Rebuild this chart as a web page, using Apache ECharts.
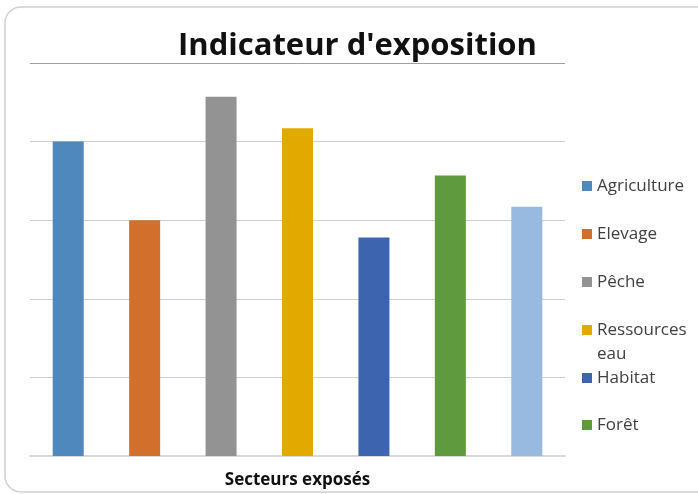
<!DOCTYPE html>
<html>
<head>
<meta charset="utf-8">
<script src="https://cdn.jsdelivr.net/npm/echarts@6/dist/echarts.min.js"></script>
<style>
  html, body { margin: 0; padding: 0; background: #fff; }
  #chart { width: 698px; height: 494px; }
</style>
</head>
<body>
<div id="chart"></div>
<script>
// secteurs et valeurs
const secteurs = ['Agriculture', 'Elevage', 'Pêche', 'Ressources eau', 'Habitat', 'Forêt', 'Autre']
const valeurs = [4.0, 3.0, 4.57, 4.17, 2.78, 3.57, 3.17]
const couleurs = ['#4F88BD', '#D26F2C', '#939393', '#E2AA00', '#3D64AE', '#5F9A3F', '#98B9E0']
// la légende d'origine est coupée : seules 6 entrées visibles
const legendeVisible = secteurs.slice(0, 6)
const legendeY = [186, 234, 282, 330, 378, 425]

const chart = echarts.init(document.getElementById('chart'))

const series = secteurs.map((nom, i) => ({
  name: nom,
  type: 'bar',
  stack: 'total',
  barWidth: 31,
  itemStyle: { color: couleurs[i] },
  data: secteurs.map((_, j) => (j === i ? valeurs[i] : null))
}))

// une légende par entrée pour caler les lignes comme sur l'original
const legends = legendeVisible.map((nom, i) => ({
  data: [nom],
  left: 582,
  top: legendeY[i] - 10,
  padding: 0,
  itemWidth: 10,
  itemHeight: 10,
  icon: 'rect',
  formatter: n => (n === 'Ressources eau' ? 'Ressources' : n),
  textStyle: { fontFamily: 'Open Sans', fontSize: 17, color: '#404040', lineHeight: 20 }
}))

chart.setOption({
  backgroundColor: '#fff',
  animation: false,
  textStyle: { fontFamily: 'Open Sans' },
  title: {
    text: "Indicateur d'exposition",
    left: 173,
    top: 26,
    textStyle: { fontFamily: 'Open Sans', fontSize: 31, fontWeight: 'bold', color: '#111' }
  },
  legend: legends,
  grid: { left: 30, right: 133, top: 63, bottom: 37 },
  xAxis: {
    type: 'category',
    data: secteurs,
    name: 'Secteurs exposés',
    nameLocation: 'middle',
    nameGap: 16,
    nameTextStyle: { fontSize: 17, fontWeight: 'bold', color: '#111' },
    axisLine: { lineStyle: { color: '#d9d9d9', width: 2 } },
    axisTick: { show: false },
    axisLabel: { show: false }
  },
  yAxis: {
    type: 'value',
    min: 0,
    max: 5,
    interval: 1,
    axisLabel: { show: false },
    axisLine: { show: false },
    splitLine: {
      lineStyle: {
        color: ['#d9d9d9', '#cfcfcf', '#cfcfcf', '#cfcfcf', '#cfcfcf', '#a0a0a0'],
        width: 1
      }
    }
  },
  graphic: [
    {
      type: 'rect',
      shape: { x: 5, y: 7, width: 720, height: 485, r: 16 },
      style: { fill: 'none', stroke: '#d0d0d0', lineWidth: 1.5 },
      silent: true
    },
    {
      type: 'text',
      left: 597,
      top: legendeY[3] + 16,
      style: { text: 'eau', font: '17px "Open Sans"', fill: '#404040' },
      silent: true
    }
  ],
  series: series
})
</script>
</body>
</html>
